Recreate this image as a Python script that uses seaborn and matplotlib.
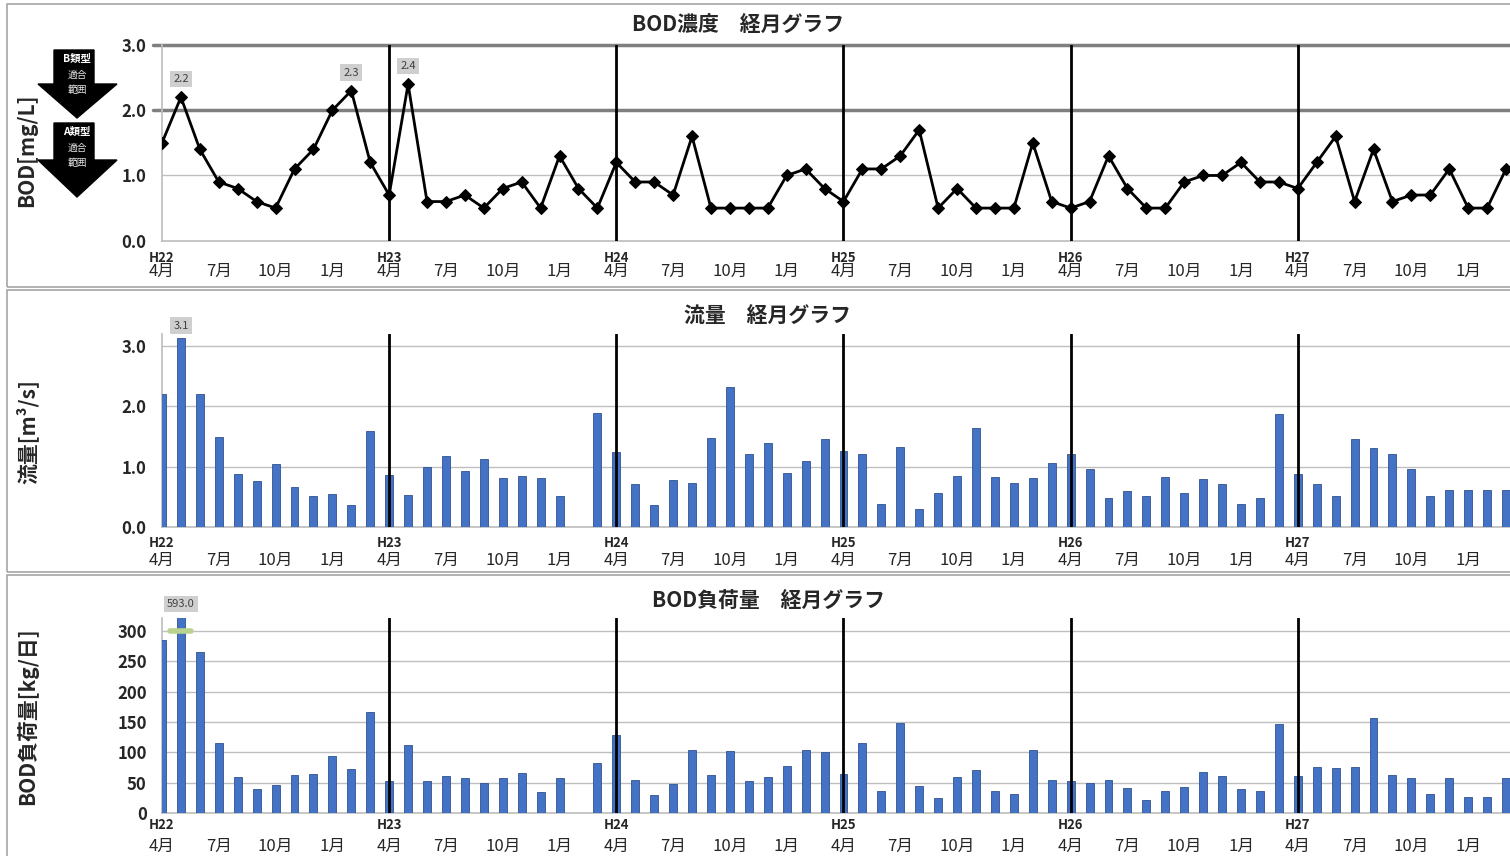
import numpy as np
import pandas as pd
import matplotlib
matplotlib.use("Agg")
import matplotlib.pyplot as plt
from matplotlib.patches import Polygon, Rectangle
from matplotlib.transforms import blended_transform_factory
import seaborn as sns

nan = np.nan

# monthly data, H22/4 .. H28/3
bod = [1.5, 2.2, 1.4, 0.9, 0.8, 0.6, 0.5, 1.1, 1.4, 2.0, 2.3, 1.2,
       0.7, 2.4, 0.6, 0.6, 0.7, 0.5, 0.8, 0.9, 0.5, 1.3, 0.8, 0.5,
       1.2, 0.9, 0.9, 0.7, 1.6, 0.5, 0.5, 0.5, 0.5, 1.0, 1.1, 0.8,
       0.6, 1.1, 1.1, 1.3, 1.7, 0.5, 0.8, 0.5, 0.5, 0.5, 1.5, 0.6,
       0.5, 0.6, 1.3, 0.8, 0.5, 0.5, 0.9, 1.0, 1.0, 1.2, 0.9, 0.9,
       0.8, 1.2, 1.6, 0.6, 1.4, 0.6, 0.7, 0.7, 1.1, 0.5, 0.5, 1.1]

flow = [2.2, 3.13, 2.2, 1.49, 0.88, 0.77, 1.05, 0.66, 0.52, 0.55, 0.37, 1.6,
        0.86, 0.54, 1.0, 1.18, 0.94, 1.13, 0.82, 0.85, 0.81, 0.52, nan, 1.9,
        1.24, 0.71, 0.37, 0.79, 0.74, 1.48, 2.33, 1.21, 1.4, 0.9, 1.09, 1.47,
        1.27, 1.22, 0.38, 1.33, 0.31, 0.56, 0.85, 1.64, 0.84, 0.74, 0.81, 1.06,
        1.21, 0.97, 0.49, 0.6, 0.51, 0.83, 0.56, 0.8, 0.71, 0.38, 0.49, 1.87,
        0.88, 0.72, 0.52, 1.47, 1.31, 1.22, 0.96, 0.52, 0.62, 0.62, 0.62, 0.61]

load = [284, 593, 265, 115, 60, 39, 46, 62, 64, 94, 72, 167,
        52, 112, 52, 61, 57, 49, 57, 66, 35, 58, nan, 82,
        128, 55, 29, 47, 103, 63, 102, 52, 60, 77, 103, 100,
        65, 116, 36, 148, 45, 24, 59, 71, 36, 32, 103, 55,
        52, 49, 54, 41, 21, 36, 43, 68, 61, 40, 37, 146,
        61, 75, 74, 75, 157, 63, 58, 32, 58, 26, 26, 58]

month_names = ["4月", "7月", "10月", "1月"]
eras = ["H22", "H23", "H24", "H25", "H26", "H27"]

df = pd.DataFrame({"month": np.arange(len(bod)), "bod": bod, "flow": flow, "load": load})

sns.set_theme(style="white")
plt.rcParams["font.family"] = ["Noto Sans CJK JP", "DejaVu Sans"]

W, H = 1510, 856
fig = plt.figure(figsize=(W / 100, H / 100), dpi=100)

def fx(x):
    return x / W

def fy(y):
    return 1 - y / H

PX_MONTH = 18.93
X0 = 162
xmax = (W - X0) / PX_MONTH

def make_ax(top, bottom):
    return fig.add_axes([fx(X0), fy(bottom), (W - X0) / W, (bottom - top) / H])

# panel frames
for top, bot in [(4, 287), (290, 572), (575, 858)]:
    fig.add_artist(Rectangle((fx(7), fy(bot)), fx(1530 - 7), (bot - top) / H,
                             transform=fig.transFigure, fill=False, ec="#a6a6a6", lw=1.2))

blue = "#4472C4"
edge = "#2F528F"
grid_c = "#bfbfbf"
year_months = [12, 24, 36, 48, 60]


def style_axis(ax, bottom_px, top_px, era_off, mon_off):
    ax.set_xlim(0, xmax)
    for s in ["top", "right"]:
        ax.spines[s].set_visible(False)
    ax.spines["left"].set_color(grid_c)
    ax.spines["bottom"].set_color(grid_c)
    ticks = list(range(0, 72, 3))
    ax.set_xticks(ticks)
    ax.set_xticklabels([month_names[(t // 3) % 4] for t in ticks], fontsize=12)
    ax.tick_params(axis="x", length=3, color=grid_c, pad=mon_off)
    ax.tick_params(axis="y", length=6, color=grid_c, pad=5, labelsize=12)
    for lab in ax.get_yticklabels():
        lab.set_fontweight("bold")
    ax.set_xlabel("")
    ax.set_ylabel("")
    trans = blended_transform_factory(ax.transData, ax.transAxes)
    h = bottom_px - top_px
    for i, era in enumerate(eras):
        ax.text(i * 12, -era_off / h, era, transform=trans, ha="center", va="center",
                fontsize=9.5, fontweight="bold")
    for m in year_months:
        ax.axvline(m, color="black", lw=2, zorder=4)


def value_box(ax, x, y, text, off, coords="data"):
    ax.annotate(text, xy=(x, y), xycoords=("data", coords), xytext=(0, off),
                textcoords="offset points", ha="center", va="center", fontsize=8,
                color="#404040",
                bbox=dict(boxstyle="square,pad=0.3", fc="#cfcfcf", ec="none"),
                annotation_clip=False)


# BOD concentration
ax1 = make_ax(45, 240.7)
ax1.axhline(1.0, color=grid_c, lw=1, zorder=0)
for lvl in [2.0, 3.0]:
    ax1.plot([-0.45, xmax], [lvl, lvl], color="#7f7f7f", lw=2.5, clip_on=False, zorder=1)
sns.lineplot(data=df, x="month", y="bod", ax=ax1, color="black", lw=2, marker="D",
             markersize=6.5, markeredgecolor="black", zorder=5)
ax1.set_ylim(0, 3.0)
ax1.set_yticks([0, 1, 2, 3])
ax1.set_yticklabels(["0.0", "1.0", "2.0", "3.0"])
style_axis(ax1, 240.7, 45, 17, 16)
ax1.tick_params(axis="x", length=0)
for i in [1, 10, 13]:
    value_box(ax1, i, bod[i], f"{bod[i]:.1f}", 13)

# flow
ax2 = make_ax(334, 527.3)
for lvl in [1, 2, 3]:
    ax2.axhline(lvl, color=grid_c, lw=1, zorder=0)
sns.barplot(data=df, x="month", y="flow", ax=ax2, native_scale=True, width=0.42,
            color=blue, edgecolor=edge, linewidth=0.6, saturation=1, errorbar=None, zorder=3)
ax2.set_ylim(0, 3.2)
ax2.set_yticks([0, 1, 2, 3])
ax2.set_yticklabels(["0.0", "1.0", "2.0", "3.0"])
style_axis(ax2, 527.3, 334, 16, 15)
value_box(ax2, 1, flow[1], "3.1", 9)

# BOD load
ax3 = make_ax(618, 813)
for lvl in range(50, 301, 50):
    ax3.axhline(lvl, color=grid_c, lw=1, zorder=0)
sns.barplot(data=df, x="month", y="load", ax=ax3, native_scale=True, width=0.42,
            color=blue, edgecolor=edge, linewidth=0.6, saturation=1, errorbar=None, zorder=3)
ax3.set_ylim(0, 321)
ax3.set_yticks(range(0, 301, 50))
ax3.set_yticklabels([str(v) for v in range(0, 301, 50)])
style_axis(ax3, 813, 618, 12, 15)
ax3.plot([0.4, 1.55], [300, 300], color="#b9d38e", lw=4, solid_capstyle="round", zorder=6)
value_box(ax3, 1, 1.0, f"{load[1]:.1f}", 10, coords="axes fraction")

# titles
fig.text(fx(738), fy(25), "BOD濃度　経月グラフ", ha="center", va="center", fontsize=15, fontweight="bold")
fig.text(fx(768), fy(316), "流量　経月グラフ", ha="center", va="center", fontsize=15, fontweight="bold")
fig.text(fx(768), fy(601), "BOD負荷量　経月グラフ", ha="center", va="center", fontsize=15, fontweight="bold")

# y labels
fig.text(fx(27), fy(150), "BOD[mg/L]", rotation=90, ha="center", va="center", fontsize=15, fontweight="bold")
fig.text(fx(27), fy(432), "流量[m³/s]", rotation=90, ha="center", va="center", fontsize=15, fontweight="bold")
fig.text(fx(27), fy(716), "BOD負荷量[kg/日]", rotation=90, ha="center", va="center", fontsize=15, fontweight="bold")

# class arrows
for top, head, tip, label in [(50, 84, 118, "B類型"), (123, 160, 197, "A類型")]:
    pts = [(54, top), (94, top), (94, head), (117, head), (77, tip), (38, head), (54, head)]
    fig.add_artist(Polygon([(fx(x), fy(y)) for x, y in pts], closed=True,
                           transform=fig.transFigure, fc="black", ec="black"))
    fig.text(fx(77), fy(top + 9), label, ha="center", va="center", color="white",
             fontsize=7.5, fontweight="bold")
    fig.text(fx(77), fy(top + 25), "適合", ha="center", va="center", color="#e8e8e8", fontsize=7)
    fig.text(fx(77), fy(top + 40), "範囲", ha="center", va="center", color="#e8e8e8", fontsize=7)

fig.savefig("out.png", dpi=100)
